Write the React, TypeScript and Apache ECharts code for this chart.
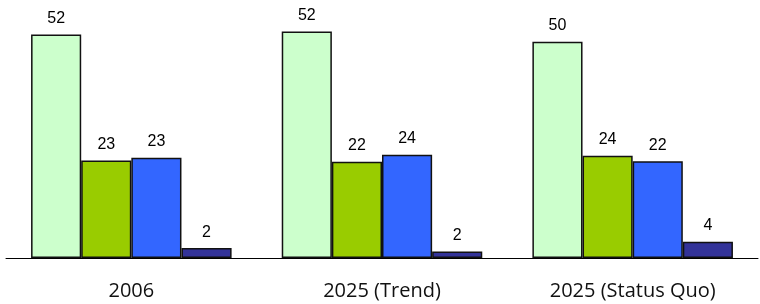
import React, { useEffect, useRef } from "react";
import * as echarts from "echarts";

const categories = ["2006", "2025 (Trend)", "2025 (Status Quo)"];
// bar heights
const seriesA = [52.0, 52.7, 50.3];
const seriesB = [22.7, 22.4, 23.8];
const seriesC = [23.3, 24.0, 22.5];
const seriesD = [2.3, 1.5, 3.8];
// printed value labels
const labelsA = [52, 52, 50];
const labelsB = [23, 22, 24];
const labelsC = [23, 24, 22];
const labelsD = [2, 2, 4];
const seriesColors = ["#ccffcc", "#99cc00", "#3366ff", "#333399"];

export default function App() {
  const ref = useRef<HTMLDivElement>(null);
  useEffect(() => {
    if (!ref.current) return;
    const chart = echarts.init(ref.current, null, { renderer: "svg" });
    const all = [seriesA, seriesB, seriesC, seriesD];
    const labs = [labelsA, labelsB, labelsC, labelsD];
    chart.setOption({
      animation: false,
      grid: { left: 6, right: 2, top: 0, bottom: 46, containLabel: false },
      xAxis: {
        type: "category",
        data: categories,
        axisLine: { show: true, lineStyle: { color: "#000", width: 1 } },
        axisTick: { show: false },
        axisLabel: {
          color: "#111",
          fontFamily: "Open Sans",
          fontSize: 20,
          margin: 21,
        },
      },
      yAxis: {
        type: "value",
        min: 0,
        max: 60,
        show: false,
        splitLine: { show: false },
      },
      series: all.map((d, i) => ({
        type: "bar",
        data: d,
        barGap: "0%",
        barCategoryGap: "20%",
        itemStyle: {
          color: seriesColors[i],
          borderColor: "#111",
          borderWidth: 1.5,
        },
        label: {
          show: true,
          position: "top",
          distance: 9,
          color: "#000",
          fontFamily: "Liberation Sans",
          fontSize: 16,
          formatter: (p: any) => String(labs[i][p.dataIndex]),
        },
      })),
    });
    return () => chart.dispose();
  }, []);
  return (
    <div
      ref={ref}
      style={{ position: "fixed", left: 0, top: 0, width: 760, height: 304 }}
    />
  );
}
